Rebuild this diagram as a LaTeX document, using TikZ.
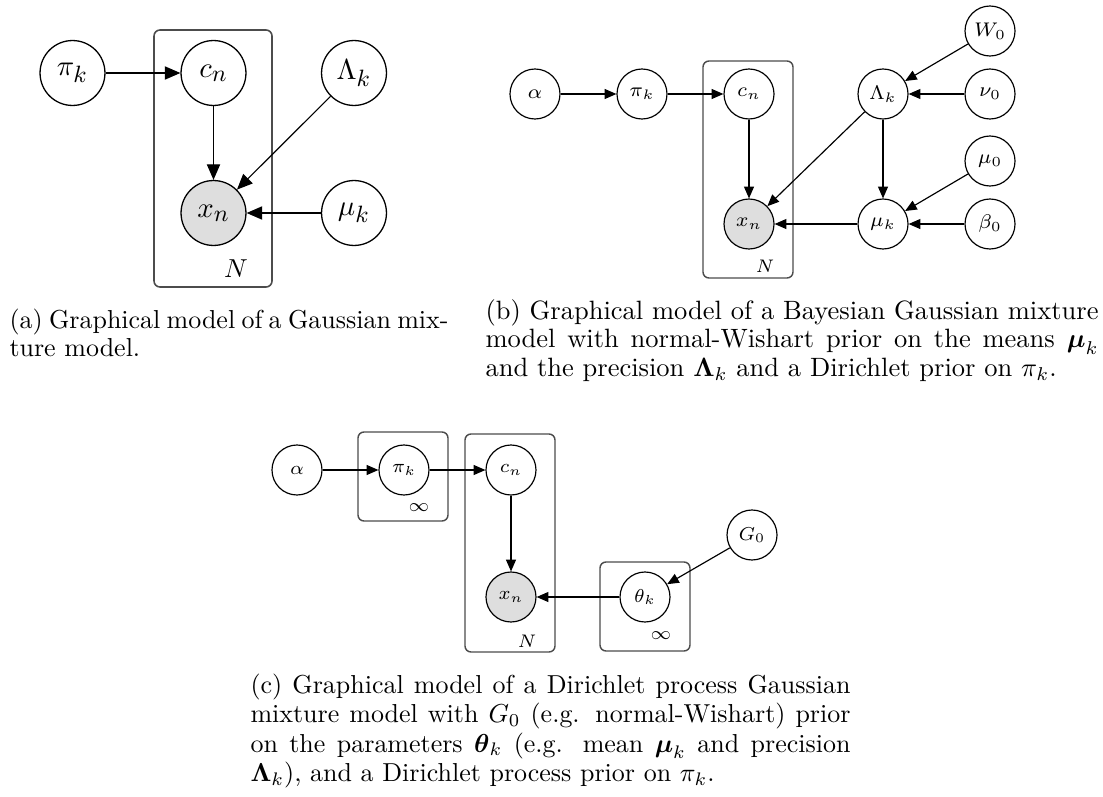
\RequirePackage{fix-cm}
\documentclass[tikz,border=0pt]{standalone}
\usepackage{amsmath}
\usetikzlibrary{arrows.meta}

\tikzset{
  var/.style={circle, draw, line width=0.45pt, minimum size=19.25pt, inner sep=0pt,
    font=\fontsize{7.6}{9}\selectfont},
  obsvar/.style={var, fill=black!13},
  cvar/.style={var, font=\fontsize{7.2}{8.5}\selectfont},
  cobs/.style={cvar, fill=black!13},
  bigvar/.style={circle, draw, line width=0.5pt, minimum size=25pt, inner sep=0pt,
    font=\def\defaultscriptratio{.82}\fontsize{11.1}{13}\selectfont},
  bigobs/.style={bigvar, fill=black!13},
  dep/.style={-{Triangle[length=4.5pt,width=3.8pt]}, line width=0.45pt},
  bigdep/.style={-{Triangle[length=6pt,width=5.1pt]}, line width=0.45pt},
  plate/.style={draw=black!70, line width=0.55pt, rounded corners=2.3pt},
  platelabel/.style={inner sep=0pt, font=\fontsize{7}{8}\selectfont},
  captext/.style={anchor=base west, inner sep=0pt, align=justify,
    font=\fontsize{10}{11}\selectfont},
}

\begin{document}
\begin{tikzpicture}[x=0.385pt, y=-0.385pt]
\useasboundingbox (0,0) rectangle (1103,796);

% ---------- (a) Gaussian mixture model ----------
\draw[plate, line width=0.6pt] (154,30) rectangle (272,287);
\node[inner sep=0pt, font=\fontsize{10}{12}\selectfont] (labA) at (236,269) {$N$};
\node[bigvar] (piA) at (72.5,73) {$\pi_k$};
\node[bigvar] (cA) at (213.5,73) {$c_n$};
\node[bigvar] (LA) at (354,73) {$\Lambda_k$};
\node[bigobs] (xA) at (213.5,213) {$x_n$};
\node[bigvar] (muA) at (354,213) {$\mu_k$};
\draw[bigdep] (piA) -- (cA);
\draw[bigdep] (cA) -- (xA);
\draw[bigdep] (LA) -- (xA);
\draw[bigdep] (muA) -- (xA);

% ---------- (b) Bayesian Gaussian mixture model ----------
\draw[plate] (703,61) rectangle (793,278);
\node[platelabel] (labB) at (765,266) {$N$};
\node[var] (alB) at (535,94) {$\alpha$};
\node[var] (piB) at (642,94) {$\pi_k$};
\node[var] (cB) at (749,94) {$c_n$};
\node[obsvar] (xB) at (749,224) {$x_n$};
\node[var] (LB) at (883,94) {$\Lambda_k$};
\node[var] (muB) at (883,224) {$\mu_k$};
\node[var] (WB) at (990,31) {$W_0$};
\node[var] (nuB) at (990,94) {$\nu_0$};
\node[var] (mzB) at (990,161) {$\mu_0$};
\node[var] (beB) at (990,224) {$\beta_0$};
\draw[dep] (alB) -- (piB);
\draw[dep] (piB) -- (cB);
\draw[dep] (cB) -- (xB);
\draw[dep] (LB) -- (xB);
\draw[dep] (muB) -- (xB);
\draw[dep] (LB) -- (muB);
\draw[dep] (WB) -- (LB);
\draw[dep] (nuB) -- (LB);
\draw[dep] (mzB) -- (muB);
\draw[dep] (beB) -- (muB);

% ---------- (c) Dirichlet process mixture model ----------
\draw[plate] (358,432) rectangle (448,521);
\draw[plate] (465,434) rectangle (555,652);
\draw[plate] (600,562) rectangle (690,651);
\node[platelabel] (infPi) at (419,508) {$\infty$};
\node[platelabel] (labC) at (527,641) {$N$};
\node[platelabel] (infTh) at (661,636) {$\infty$};
\node[cvar] (alC) at (297,470) {$\alpha$};
\node[cvar] (piC) at (404,470) {$\pi_k$};
\node[cvar] (cC) at (511,470) {$c_n$};
\node[cobs] (xC) at (511,597) {$x_n$};
\node[cvar] (thC) at (645,597) {$\theta_k$};
\node[cvar] (GC) at (752,535) {$G_0$};
\draw[dep] (alC) -- (piC);
\draw[dep] (piC) -- (cC);
\draw[dep] (cC) -- (xC);
\draw[dep] (thC) -- (xC);
\draw[dep] (GC) -- (thC);

% ---------- captions ----------
\node[captext, text width=169pt] (capA) at (9,328)
  {(a) Graphical model of a Gaussian mix-\linebreak ture model.};
\node[captext, text width=236pt, font=\fontsize{10.2}{11}\selectfont] (capB) at (485,319)
  {(b) Graphical model of a Bayesian Gaussian mixture\linebreak
   model with normal-Wishart prior on the means $\boldsymbol{\mu}_k$\linebreak
   and the precision $\mathbf{\Lambda}_k$ and a Dirichlet prior on $\pi_k$.};
\node[captext, text width=231pt, font=\fontsize{10}{11.36}\selectfont] (capC) at (250,693)
  {(c) Graphical model of a Dirichlet process Gaussian\linebreak
   mixture model with $G_0$ (e.g. normal-Wishart) prior\linebreak
   on the parameters $\boldsymbol{\theta}_k$ (e.g. mean $\boldsymbol{\mu}_k$ and precision\linebreak
   $\mathbf{\Lambda}_k$), and a Dirichlet process prior on $\pi_k$.};
\end{tikzpicture}
\end{document}
